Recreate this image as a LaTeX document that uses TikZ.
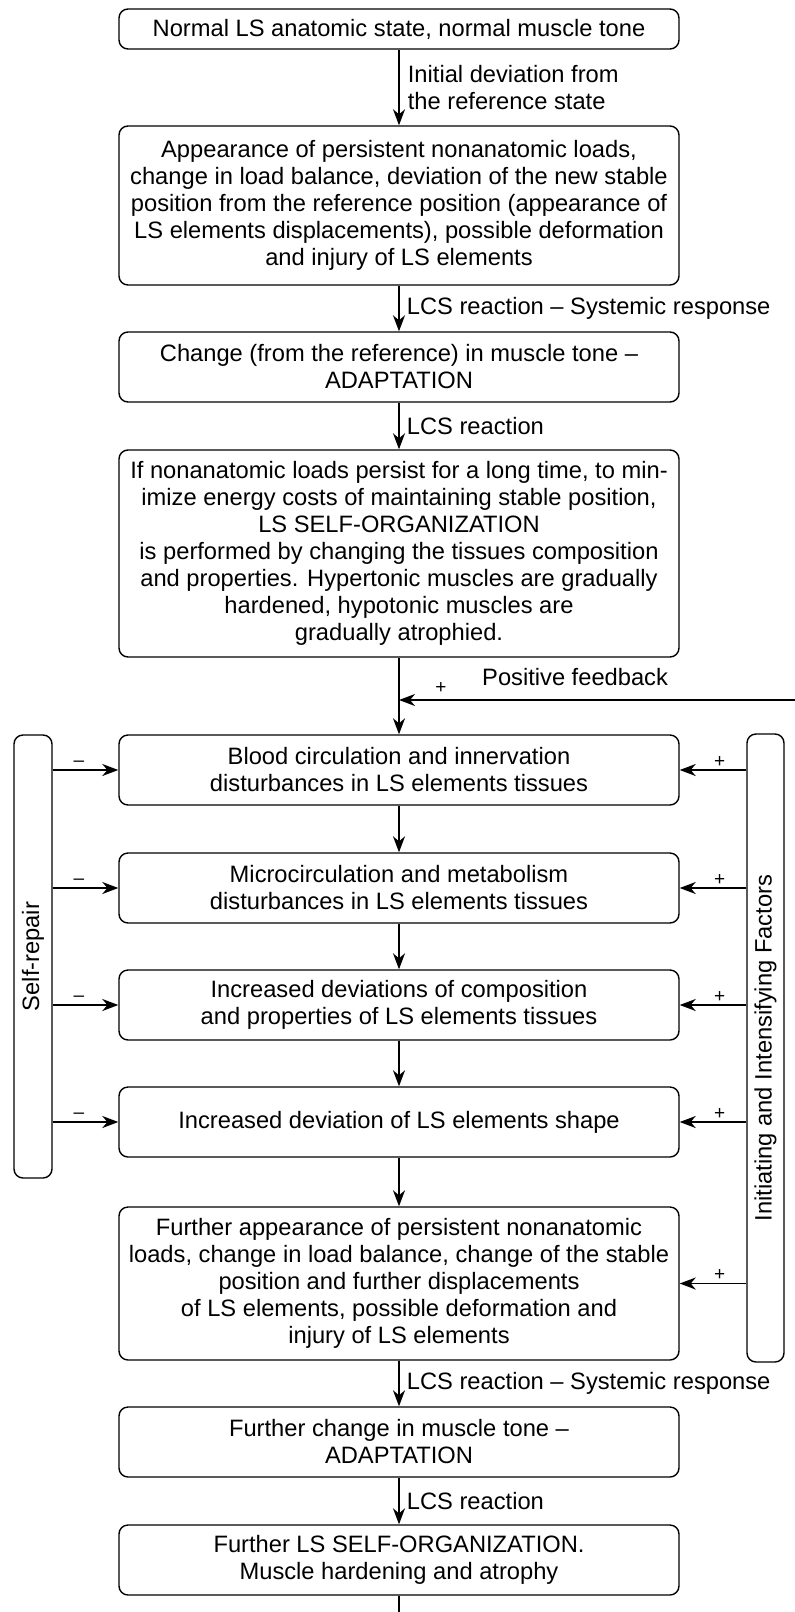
\documentclass[tikz,border=0pt]{standalone}
\usepackage{fontspec}
\setmainfont{Liberation Sans}
\usetikzlibrary{arrows.meta,positioning,calc}
\begin{document}
\begin{tikzpicture}[x=1pt,y=-1pt,
  every node/.style={font=\fontsize{23.7}{27}\selectfont},
  box/.style={draw,line width=1.4pt,rounded corners=9pt,minimum width=560pt,inner sep=0pt,align=center},
  sidebox/.style={draw,line width=1.4pt,rounded corners=9pt,inner sep=0pt},
  arr/.style={line width=1.8pt,-{Stealth[length=16pt,width=12pt,inset=5pt]}},
  lab/.style={anchor=west,align=left,inner sep=0pt},
  sign/.style={font=\fontsize{19}{19}\selectfont,inner sep=2pt}
]
\useasboundingbox (0,0) rectangle (795,1612);

\node[box,minimum height=40pt] (b1) at (399,29) {Normal LS anatomic state, normal muscle tone};
\node[box,minimum height=159pt] (b2) at (399,205.5) {Appearance of persistent nonanatomic loads,\\change in load balance, deviation of the new stable\\position from the reference position (appearance of\\LS elements displacements), possible deformation\\and injury of LS elements};
\node[box,minimum height=70pt] (b3) at (399,367) {Change (from the reference) in muscle tone --\\ADAPTATION};
\node[box,minimum height=207pt] (b4) at (399,553.5) {If nonanatomic loads persist for a long time, to min-\\imize energy costs of maintaining stable position,\\LS SELF-ORGANIZATION\\is performed by changing the tissues composition\\and properties. Hypertonic muscles are gradually\\hardened, hypotonic muscles are\\gradually atrophied.};
\node[box,minimum height=70pt] (b5) at (399,770) {Blood circulation and innervation\\disturbances in LS elements tissues};
\node[box,minimum height=70pt] (b6) at (399,888) {Microcirculation and metabolism\\disturbances in LS elements tissues};
\node[box,minimum height=70pt] (b7) at (399,1005) {Increased deviations of composition\\and properties of LS elements tissues};
\node[box,minimum height=70pt] (b8) at (399,1122) {Increased deviation of LS elements shape};
\node[box,minimum height=153pt] (b9) at (399,1283.5) {Further appearance of persistent nonanatomic\\loads, change in load balance, change of the stable\\position and further displacements\\of LS elements, possible deformation and\\injury of LS elements};
\node[box,minimum height=70pt] (b10) at (399,1442) {Further change in muscle tone --\\ADAPTATION};
\node[box,minimum height=70pt] (b11) at (399,1560) {Further LS SELF-ORGANIZATION.\\Muscle hardening and atrophy};

\node[sidebox,minimum width=38pt,minimum height=443pt] (sr) at (33,956.5) {};
\node[rotate=90] (srt) at (sr.center) {Self-repair};
\node[sidebox,minimum width=37pt,minimum height=628pt] (fac) at (765.5,1048) {};
\node[rotate=90] (fact) at (fac.center) {Initiating and Intensifying Factors};

% main chain
\draw[arr] (b1) -- node[lab,right=8pt,anchor=west] (l1) {Initial deviation from\\the reference state} (b2);
\draw[arr] (b2) -- node[lab,right=7pt,anchor=west] (l2) {LCS reaction -- Systemic response} (b3);
\draw[arr] (b3) -- node[lab,right=7pt,anchor=west] (l3) {LCS reaction} (b4);
\draw[arr] (b4) -- (b5);
\draw[arr] (b5) -- (b6);
\draw[arr] (b6) -- (b7);
\draw[arr] (b7) -- (b8);
\draw[arr] (b8) -- (b9);
\draw[arr] (b9) -- node[lab,right=7pt,anchor=west] (l4) {LCS reaction -- Systemic response} (b10);
\draw[arr] (b10) -- node[lab,right=7pt,anchor=west] (l5) {LCS reaction} (b11);
\coordinate (bend) at (400,1612);
\draw[line width=1.8pt] (b11.south) -- (b11.south |- bend);

% positive feedback
\coordinate (fbR) at (795,700);
\coordinate (fbJ) at (b4.south |- fbR);
\draw[arr] (fbR) -- (fbJ);
\node[sign] (fbp) at (441,688) {+};
\node[anchor=west,inner sep=0pt] (fbl) at (482,677) {Positive feedback};

% self-repair arrows
\foreach \b in {b5,b6,b7,b8}{
  \draw[arr] (sr.east |- \b.west) -- node[sign,pos=0.4,above=1pt] {--} (\b.west);
}
% factor arrows
\foreach \b in {b5,b6,b7,b8,b9}{
  \draw[arr] (fac.west |- \b.east) -- node[sign,pos=0.4,above=0pt] {+} (\b.east);
}
\end{tikzpicture}
\end{document}
